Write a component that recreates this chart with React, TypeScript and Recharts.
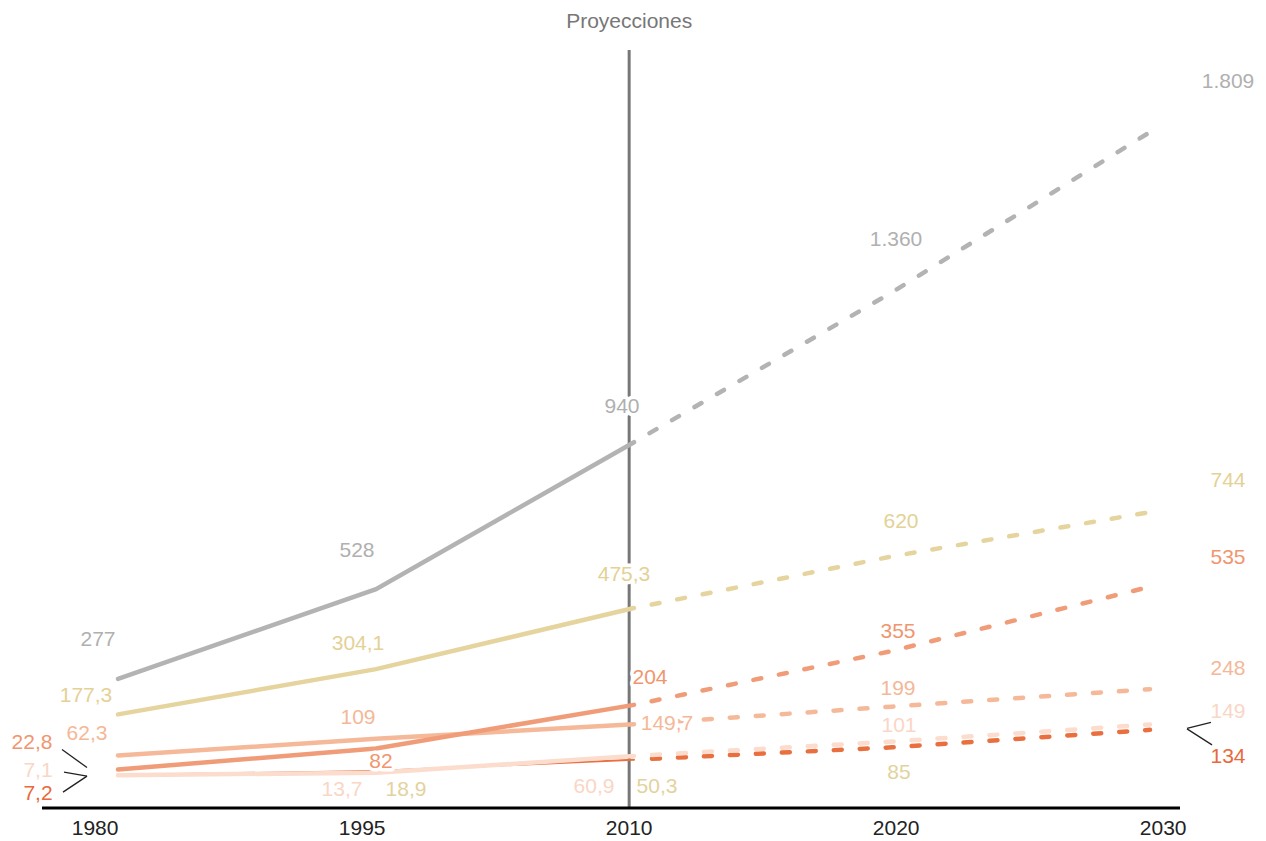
import { LabelList, Line, LineChart, ReferenceLine, XAxis, YAxis } from "recharts";

const anios = ["1980", "1995", "2010", "2020", "2030"];
const grisValores = [277, 528, 940, 1360, 1809];
const amarilloValores = [177.3, 304.1, 475.3, 620, 744];
const naranjaValores = [22.8, 82, 204, 355, 535];
const salmonValores = [62.3, 109, 149.7, 199, 248];
const rosaValores = [7.1, 13.7, 60.9, 101, 149];
const rojoValores = [7.2, 18.9, 50.3, 85, 134];
const ultimoReal = 2; // 2010: desde aquí, proyecciones

const fmt = (v: number) => {
  const [ent, dec] = String(v).split(".");
  const e = ent.replace(/\B(?=(\d{3})+(?!\d))/g, ".");
  return dec ? `${e},${dec}` : e;
};

type Serie = {
  key: string;
  values: number[];
  color: string;
  text: string[];
  width: number;
  solidWidth?: number;
  offsets: number[][];
  leaders?: Record<number, number[][]>;
};

const TAN = "#e2d39e";

// orden de dibujo
const series: Serie[] = [
  {
    key: "gris", values: grisValores, color: "#b3b3b3", text: Array(5).fill("#b0b0b0"), width: 4.5,
    offsets: [[-20, -40], [-19, -40], [-12, -37], [4, -54], [78, -52]],
  },
  {
    key: "amarillo", values: amarilloValores, color: "#e6d49f", text: Array(5).fill("#e4d196"), width: 4.5,
    offsets: [[-32, -20], [-18, -27], [-10, -35], [9, -36], [78, -33]],
  },
  {
    key: "salmon", values: salmonValores, color: "#f5b999", text: Array(5).fill("#f4b898"), width: 4.5,
    offsets: [[-31, -23], [-18, -22], [33, -2], [6, -19], [78, -22]],
  },
  {
    key: "naranja", values: naranjaValores, color: "#f19c78", text: Array(5).fill("#f0966f"), width: 4.5,
    offsets: [[-86, -28], [5, 12], [16, -28], [6, -20], [78, -30]],
    leaders: { 0: [[-56, -20], [-31, -2]] },
  },
  {
    key: "rojo", values: rojoValores, color: "#e96f3f", text: ["#e8693b", TAN, TAN, TAN, "#e8693b"], width: 4.5, solidWidth: 2,
    offsets: [[-80, 17], [30, 18], [23, 26], [7, 24], [78, 26]],
    leaders: { 0: [[-55, 17], [-31, 1]], 4: [[62, 15], [37, -1]] },
  },
  {
    key: "rosa", values: rosaValores, color: "#fbdccd", text: Array(5).fill("#fad6c5"), width: 4.5,
    offsets: [[-80, -6], [-34, 16], [-40, 30], [7, -17], [78, -14]],
    leaders: { 0: [[-54, -3], [-31, 1]], 4: [[61, -2], [37, 4]] },
  },
];

const filas = anios.map((_, i) => {
  const row: Record<string, number | null> = { i };
  series.forEach((s) => {
    row[s.key] = s.values[i];
    row[s.key + "S"] = i <= ultimoReal ? s.values[i] : null;
    row[s.key + "D"] = i >= ultimoReal ? s.values[i] : null;
  });
  return row;
});

function etiqueta(s: Serie) {
  return (props: any) => {
    const x = props.x ?? props.viewBox?.x;
    const y = props.y ?? props.viewBox?.y;
    const value = props.value;
    if (x == null || y == null || value == null) return null;
    const idx = typeof props.index === "number" ? props.index : s.values.indexOf(Number(value));
    const [dx, dy] = s.offsets[idx] ?? [0, -20];
    const lead = s.leaders?.[idx];
    return (
      <g>
        {lead && (
          <line x1={x + lead[0][0]} y1={y + lead[0][1]} x2={x + lead[1][0]} y2={y + lead[1][1]} stroke="#222" strokeWidth={1.3} />
        )}
        <text
          x={x + dx}
          y={y + dy}
          textAnchor="middle"
          dominantBaseline="central"
          fontSize={21}
          fill={s.text[idx]}
          stroke="#fff"
          strokeWidth={7}
          strokeLinejoin="round"
          paintOrder="stroke"
        >
          {fmt(Number(value))}
        </text>
      </g>
    );
  };
}

export default function App() {
  return (
    <div style={{ width: 1266, height: 841, fontFamily: "'Liberation Sans', Arial, Helvetica, sans-serif" }}>
      <style>{"body{margin:0}"}</style>
      <LineChart width={1266} height={841} data={filas} margin={{ top: 50, right: 86, bottom: 3, left: 42 }}>
        <XAxis xAxisId="pos" dataKey="i" type="number" domain={[-0.2946, 4.1163]} allowDataOverflow hide />
        <XAxis
          xAxisId="lab"
          dataKey="i"
          type="number"
          domain={[-0.199, 4.063]}
          allowDataOverflow
          ticks={[0, 1, 2, 3, 4]}
          tickFormatter={(i) => anios[i]}
          axisLine={{ stroke: "#000", strokeWidth: 3 }}
          tickLine={false}
          tickMargin={6}
          tick={{ fill: "#222", fontSize: 21 }}
          height={30}
        />
        <YAxis domain={[-85, 2039]} allowDataOverflow hide />
        <ReferenceLine
          xAxisId="lab"
          x={2}
          stroke="#777"
          strokeWidth={3}
          label={{ value: "Proyecciones", position: "top", offset: 22, fill: "#777", fontSize: 21 }}
        />
        {series.flatMap((s) => [
          <Line
            key={s.key + "S"}
            xAxisId="pos"
            dataKey={s.key + "S"}
            stroke={s.color}
            strokeWidth={s.solidWidth ?? s.width}
            strokeLinecap="round"
            dot={false}
            activeDot={false}
            isAnimationActive={false}
          />,
          <Line
            key={s.key + "D"}
            xAxisId="pos"
            dataKey={s.key + "D"}
            stroke={s.color}
            strokeWidth={s.width}
            strokeLinecap="round"
            strokeDasharray="8 18"
            strokeDashoffset={8}
            dot={false}
            activeDot={false}
            isAnimationActive={false}
          />,
        ])}
        {series.map((s) => (
          <Line
            key={s.key + "L"}
            xAxisId="pos"
            dataKey={s.key}
            stroke="none"
            dot={false}
            activeDot={false}
            isAnimationActive={false}
          >
            <LabelList dataKey={s.key} content={etiqueta(s)} />
          </Line>
        ))}
      </LineChart>
    </div>
  );
}
